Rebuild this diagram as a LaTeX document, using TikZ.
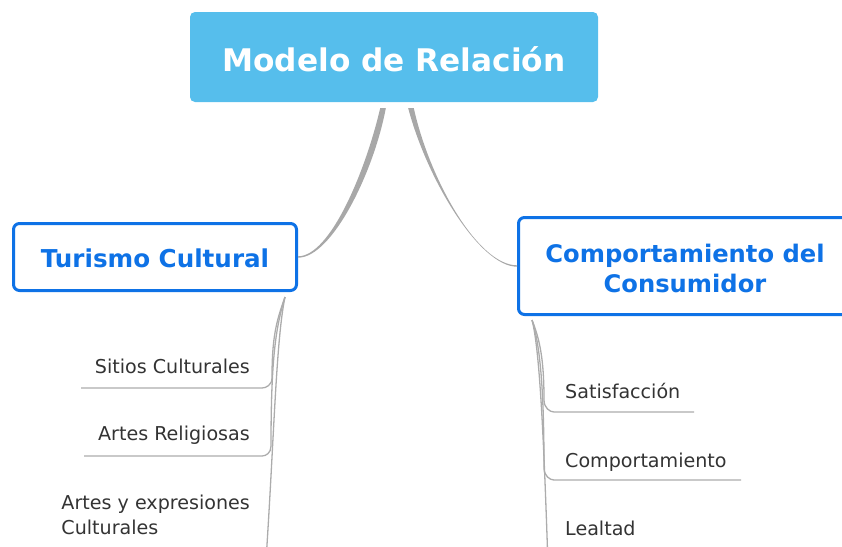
\documentclass[tikz,border=0pt]{standalone}
\usepackage{fontspec}
\setmainfont{DejaVu Sans}
\definecolor{rootfill}{RGB}{86,190,236}
\definecolor{mainblue}{RGB}{14,114,230}
\definecolor{txtgray}{RGB}{51,51,51}
\definecolor{linegray}{RGB}{172,172,172}
\definecolor{trunkgray}{RGB}{168,168,168}
\begin{document}
\begin{tikzpicture}[x=1pt,y=-1pt,
 rootbox/.style={fill=rootfill, rounded corners=5pt, minimum width=408pt, minimum height=90pt, inner sep=0pt, text=white, font=\fontsize{31.2}{36}\selectfont\bfseries, text height=28pt, text depth=0pt},
 topicbox/.style={draw=mainblue, line width=3pt, fill=white, rounded corners=6pt, inner sep=0pt, text=mainblue, font=\fontsize{24.6}{30}\selectfont\bfseries, align=center},
 leaf/.style={inner sep=0pt, text=txtgray, font=\fontsize{19.1}{25}\selectfont},
 branch/.style={draw=linegray, line width=1.3pt},
 taper/.style={fill=trunkgray}
]
\clip (0,0) rectangle (842,546);
\node[rootbox] (root) at (394,57) {Modelo de Relación};
\node[topicbox, minimum width=283pt, minimum height=67pt, text height=20pt, text depth=0pt] (tur) at (155,257) {Turismo Cultural};
\node[topicbox, minimum width=333pt, minimum height=97pt, text height=52pt, text depth=0pt, font=\fontsize{24.2}{30}\selectfont\bfseries] (cons) at (685,266) {Comportamiento del\\Consumidor};

% main connectors
\coordinate (rl) at ([shift={(-11,6)}]root.south);
\coordinate (rr) at ([shift={(17,6)}]root.south);
\fill[taper] ([xshift=-2.8pt]rl) .. controls +(-15,64) and +(32,0) .. ([yshift=0.7pt]tur.east)
  -- ([yshift=-0.7pt]tur.east) .. controls +(34,0) and +(-12,64) .. ([xshift=2.8pt]rl) -- cycle;
\fill[taper] ([xshift=-2.8pt]rr) .. controls +(19,72) and +(-37,0) .. ([yshift=-0.7pt]cons.west)
  -- ([yshift=0.7pt]cons.west) .. controls +(-39,0) and +(16,72) .. ([xshift=2.8pt]rr) -- cycle;

% leaves
\node[leaf, anchor=base east] (sitios) at (250,373) {Sitios Culturales};
\node[leaf, anchor=base east] (religiosas) at (250,440) {Artes Religiosas};
\node[leaf, anchor=east, align=left] (artes) at (250,515) {Artes y expresiones\\Culturales};
\node[leaf, anchor=base west] (satis) at (565,398) {Satisfacción};
\node[leaf, anchor=base west] (comp) at (565,467) {Comportamiento};
\node[leaf, anchor=base west] (leal) at (565,535) {Lealtad};

% branch lines
\coordinate (tt) at ([shift={(130,5)}]tur.south);
\coordinate (ct) at ([shift={(-153,4)}]cons.south);
\coordinate (e1) at (81,388);
\coordinate (e2) at (84,456);
\coordinate (e3) at (266,560);
\coordinate (r1) at (694,412);
\coordinate (r2) at (741,480);
\coordinate (r3) at (548,565);

\draw[branch] (tt) .. controls +(-9,25) and +(0,-40) .. ++(-13,81)
  .. controls +(0,7) and +(4,0) .. ++(-10,10) -- (e1);
\draw[branch] (tt) .. controls +(-9,30) and +(0,-90) .. ++(-14,149)
  .. controls +(0,7) and +(4,0) .. ++(-9,10) -- (e2);
\draw[branch] (tt) .. controls +(-9,43) and +(8,-120) .. (e3);

\draw[branch] (ct) .. controls +(8,20) and +(0,-40) .. ++(12,80)
  .. controls +(0,8) and +(-4,0) .. ++(10,12) -- (r1);
\draw[branch] (ct) .. controls +(8,25) and +(0,-80) .. ++(12,148)
  .. controls +(0,8) and +(-4,0) .. ++(10,12) -- (r2);
\draw[branch] (ct) .. controls +(8,30) and +(-4,-120) .. (r3);
\end{tikzpicture}
\end{document}
